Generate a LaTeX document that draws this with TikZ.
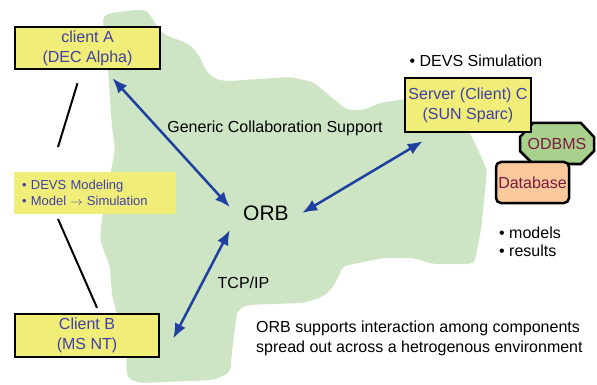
\documentclass[tikz,border=0pt]{standalone}
\usepackage{fontspec}
\setmainfont{Liberation Sans}
\usetikzlibrary{arrows.meta}
\definecolor{blobgreen}{RGB}{205,229,197}
\definecolor{boxyellow}{RGB}{240,238,120}
\definecolor{textblue}{RGB}{64,64,165}
\definecolor{arrowblue}{RGB}{32,64,160}
\definecolor{odbgreen}{RGB}{168,209,141}
\definecolor{dbpeach}{RGB}{249,200,155}
\definecolor{dbtext}{RGB}{122,27,63}
\begin{document}
\begin{tikzpicture}[x=1pt,y=-1pt,
    station/.style={draw, line width=2.5pt, fill=boxyellow, text=textblue, align=center,
      font=\fontsize{16}{20}\selectfont, inner sep=0pt},
    link/.style={arrowblue, line width=2.5pt, {Latex[length=15pt,width=12pt]}-{Latex[length=15pt,width=12pt]}},
    tie/.style={line width=2pt},
    plain/.style={font=\fontsize{16}{20}\selectfont, inner sep=0pt}]
  \useasboundingbox (0,0) rectangle (597,385);
  % network cloud
  \fill[blobgreen, rounded corners=5pt] (103,15) -- (117,12) -- (137,10) -- (147,10) -- (153,20)
    -- (162,33) -- (170,37) -- (187,43) -- (197,52) -- (207,72) -- (217,80) -- (230,81)
    -- (290,77) -- (313,82) -- (347,110) -- (363,110) -- (380,103) -- (405,99) -- (440,105)
    -- (465,125) -- (472,137) -- (478,150) -- (487,170) -- (484,200) -- (481,230) -- (475,260)
    -- (472,264) -- (433,264) -- (413,258) -- (383,258) -- (363,262) -- (343,266) -- (337,280)
    -- (330,291) -- (320,298) -- (303,303) -- (247,305) -- (237,311) -- (233,343) -- (230,373)
    -- (213,380) -- (140,383) -- (127,378) -- (126,340) -- (118,318) -- (112,295) -- (110,267)
    -- (100,240) -- (102,218) -- (115,150) -- (112,127) -- (108,70) -- (104,40) -- cycle;
  % machines
  \node[station, minimum width=145pt, minimum height=42pt] (A) at (87.5,48) {client A\\(DEC Alpha)};
  \node[station, minimum width=144pt, minimum height=43pt] (B) at (87,335.5) {Client B\\(MS NT)};
  \draw[line width=2.5pt, fill=odbgreen] (533,123) -- (581,123) -- (594,137) -- (594,151)
    -- (581,164) -- (533,164) -- (520,151) -- (520,137) -- cycle;
  \node[text=dbtext, inner sep=0pt, font=\fontsize{16}{20}\selectfont] (odb) at (557,143.5) {ODBMS};
  \node[station, minimum width=126pt, minimum height=54pt] (C) at (468,105) {Server (Client) C\\(SUN Sparc)};
  \node[draw, line width=2.5pt, fill=dbpeach, text=dbtext, rounded corners=5pt,
    minimum width=73pt, minimum height=41pt, inner sep=0pt,
    font=\fontsize{16}{20}\selectfont] (db) at (532.5,182.5) {Database};
  \node[fill=boxyellow, text=textblue, align=left, text width=146pt, inner sep=8pt,
    minimum height=40pt, font=\fontsize{13}{16}\selectfont] (lbl) at (95,193)
    {• DEVS Modeling\\• Model $\to$ Simulation};
  \node[font=\fontsize{21}{24}\selectfont, minimum width=72pt, minimum height=40pt, inner sep=0pt] (orb) at (266,213) {ORB};
  % texts
  \node[plain] (gen) at (275,128) {Generic Collaboration Support};
  \node[plain] (tcp) at (243.5,283) {TCP/IP};
  \node[plain] (sim) at (476,61) {• DEVS Simulation};
  \node[plain, anchor=west, align=left, font=\fontsize{16}{18}\selectfont] (res) at (499,242) {• models\\• results};
  \node[plain, anchor=west, align=left] (note) at (256,338)
    {ORB supports interaction among components\\spread out across a hetrogenous environment};
  % connectors
  \draw[link] ([xshift=25pt,yshift=-8pt]A.south) -- ([yshift=6pt]orb.west);
  \draw[link] (orb.east) -- ([xshift=19pt,yshift=-8pt]C.south west);
  \draw[link] ([yshift=-17pt]orb.west) -- ([xshift=13pt,yshift=-3pt]B.east);
  \draw[tie] ([xshift=-10pt,yshift=-13pt]A.south) -- ([xshift=-37pt,yshift=25pt]lbl.north);
  \draw[tie] ([xshift=-37pt,yshift=-5pt]lbl.south) -- ([xshift=10pt,yshift=5pt]B.north);
\end{tikzpicture}
\end{document}
